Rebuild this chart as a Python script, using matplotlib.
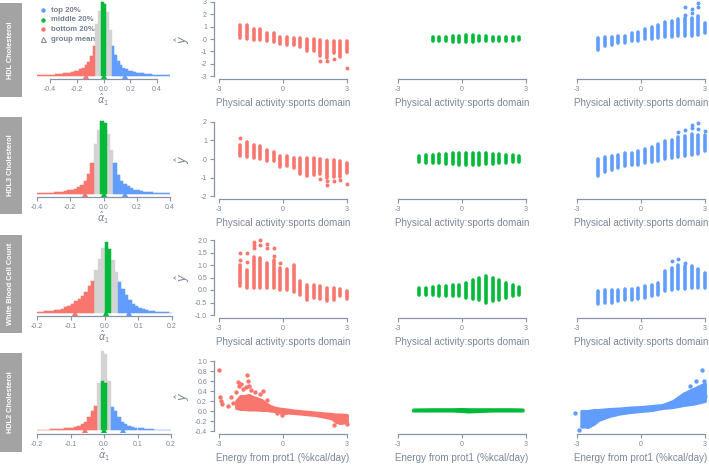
import numpy as np
import matplotlib.pyplot as plt

W, H = 709, 468
RED = '#F8766D'
GREEN = '#00BA38'
BLUE = '#619CFF'
GREY = '#d3d3d3'
AXC = '#8794a6'
TXT = '#7a8698'

plt.rcParams['font.family'] = ['Liberation Sans', 'DejaVu Sans']

row_names = ['HDL Cholesterol', 'HDL3 Cholesterol', 'White Blood Cell Count', 'HDL2 Cholesterol']
x_names = ['Physical activity:sports domain'] * 3 + ['Energy from prot1 (%kcal/day)']

# ---- histograms of alpha_1 (relative bin heights) ----
hist_start = [-0.5, -0.4, -0.2, -0.2]
hist_width = [0.02, 0.02, 0.01, 0.01]
hist1 = [0.005, 0.005, 0.007, 0.008, 0.01, 0.012, 0.015, 0.018, 0.02, 0.025,
         0.03, 0.035, 0.04, 0.05, 0.06, 0.07, 0.09, 0.11, 0.14, 0.19,
         0.27, 0.41, 0.7, 0.88, 1.0, 0.97, 0.86, 0.62, 0.4, 0.28,
         0.2, 0.15, 0.11, 0.09, 0.07, 0.06, 0.05, 0.04, 0.035, 0.03,
         0.025, 0.02, 0.018, 0.015, 0.012, 0.01, 0.008, 0.007, 0.006, 0.005]
hist2 = [0.005, 0.007, 0.01, 0.012, 0.015, 0.02, 0.025, 0.03, 0.035, 0.045,
         0.055, 0.07, 0.09, 0.12, 0.17, 0.27, 0.43, 0.68, 0.88, 1.0,
         0.97, 0.82, 0.6, 0.42, 0.26, 0.18, 0.13, 0.1, 0.075, 0.055,
         0.045, 0.035, 0.03, 0.022, 0.018, 0.014, 0.01, 0.008, 0.006, 0.004]
hist3 = [0.01, 0.015, 0.02, 0.025, 0.03, 0.035, 0.045, 0.06, 0.08, 0.1,
         0.13, 0.17, 0.2, 0.24, 0.3, 0.38, 0.45, 0.6, 0.76, 0.92,
         1.0, 0.9, 0.75, 0.58, 0.44, 0.34, 0.25, 0.18, 0.13, 0.1,
         0.075, 0.055, 0.04, 0.03, 0.022, 0.016, 0.012, 0.009, 0.006, 0.004]
hist4 = [0.005, 0.007, 0.008, 0.01, 0.012, 0.014, 0.016, 0.02, 0.025, 0.03,
         0.035, 0.045, 0.055, 0.08, 0.11, 0.17, 0.24, 0.31, 0.6, 1.0,
         0.97, 0.62, 0.3, 0.24, 0.17, 0.11, 0.08, 0.06, 0.045, 0.035,
         0.03, 0.025, 0.02, 0.016, 0.013, 0.01, 0.008, 0.006, 0.005, 0.004]
# group cut points: bottom below, middle between, top above
cut_bottom = [-0.06, -0.06, -0.03, -0.02]
cut_mid_lo = [-0.02, -0.02, 0.0, -0.01]
cut_mid_hi = [0.02, 0.02, 0.02, 0.01]
cut_top = [0.06, 0.06, 0.04, 0.02]
mid_frac = [1.0, 1.0, 1.0, 0.62]
mean_bottom = [-0.13, -0.11, -0.087, -0.057]
mean_mid = [0.0, 0.003, 0.004, 0.0]
mean_top = [0.16, 0.13, 0.073, 0.058]

# ---- discrete sports domain scatter (rows 1-3), vertical spreads ----
sports_x = [-2.0, -1.69, -1.38, -1.06, -0.75, -0.44, -0.12, 0.19, 0.5,
            0.81, 1.12, 1.44, 1.75, 2.06, 2.38, 2.69, 3.0]

r1_red_lo = [0.05, -0.03, -0.08, -0.08, -0.2, -0.26, -0.4, -0.45, -0.52, -0.65, -1.0, -1.0, -1.35, -1.5, -1.1, -1.45, -1.06]
r1_red_hi = [1.1, 1.1, 0.84, 0.8, 0.52, 0.5, 0.18, 0.18, 0.1, 0.05, 0.0, 0.0, -0.08, -0.13, -0.2, -0.13, -0.2]
r1_red_ox = [1.75, 2.06, 2.38, 3.0]
r1_red_oy = [-1.77, -1.8, -1.64, -2.34]
r1_green_x = [-1.38, -1.06, -0.75, -0.44, -0.12, 0.19, 0.5, 0.81, 1.12, 1.44, 1.75, 2.06, 2.38, 2.69]
r1_green_lo = [-0.15, -0.2, -0.2, -0.25, -0.25, -0.25, -0.25, -0.2, -0.2, -0.2, -0.2, -0.15, -0.15, -0.1]
r1_green_hi = [0.15, 0.2, 0.2, 0.25, 0.25, 0.3, 0.3, 0.25, 0.25, 0.2, 0.2, 0.2, 0.15, 0.15]
r1_blue_lo = [-0.89, -0.57, -0.52, -0.31, -0.31, -0.17, -0.17, -0.04, 0.01, 0.09, 0.15, 0.17, 0.23, 0.28, 0.23, 0.36, 0.49]
r1_blue_hi = [0.09, 0.15, 0.17, 0.28, 0.28, 0.49, 0.57, 0.81, 0.97, 1.16, 1.35, 1.48, 1.61, 1.69, 1.69, 1.83, 1.29]
r1_blue_ox = [2.06, 2.06, 2.38, 2.38, 2.69, 2.69]
r1_blue_oy = [2.63, 1.96, 2.41, 2.09, 2.95, 2.57]

r2_red_lo = [0.15, 0.12, 0.03, -0.01, -0.1, -0.12, -0.42, -0.39, -0.46, -0.83, -0.9, -0.87, -0.83, -1.05, -0.96, -0.96, -0.78]
r2_red_hi = [0.74, 0.92, 0.78, 0.69, 0.48, 0.39, 0.17, 0.15, 0.06, 0.03, 0.03, 0.03, -0.01, -0.03, -0.06, -0.1, -0.21]
r2_red_ox = [-2.0, 1.75, 2.06, 2.06, 2.38, 2.69, 3.0]
r2_red_oy = [1.14, -1.1, -1.18, -1.41, -1.19, -1.14, -1.35]
r2_green_x = [-2.0, -1.69, -1.38, -1.06, -0.75, -0.44, -0.12, 0.19, 0.5, 0.81, 1.12, 1.44, 1.75, 2.06, 2.38, 2.69]
r2_green_lo = [-0.15, -0.2, -0.2, -0.2, -0.25, -0.25, -0.3, -0.3, -0.3, -0.3, -0.25, -0.25, -0.2, -0.2, -0.15, -0.15]
r2_green_hi = [0.15, 0.2, 0.2, 0.25, 0.25, 0.3, 0.35, 0.35, 0.35, 0.3, 0.3, 0.25, 0.25, 0.2, 0.2, 0.15]
r2_blue_lo = [-0.9, -0.7, -0.6, -0.5, -0.4, -0.35, -0.3, -0.2, -0.15, -0.1, 0.0, 0.05, 0.1, 0.15, 0.2, 0.25, 0.45]
r2_blue_hi = [0.0, 0.1, 0.15, 0.2, 0.3, 0.35, 0.45, 0.55, 0.65, 0.8, 0.95, 1.05, 1.2, 1.25, 1.35, 1.3, 1.3]
r2_blue_ox = [1.75, 2.06, 2.38, 2.38, 2.69, 2.69, 3.0]
r2_blue_oy = [1.45, 1.55, 1.65, 1.85, 1.6, 1.95, 1.5]

r3_red_lo = [0.16, 0.07, 0.09, 0.07, 0.07, 0.07, 0.0, 0.0, -0.07, -0.2, -0.4, -0.33, -0.36, -0.44, -0.4, -0.23, -0.36]
r3_red_hi = [1.0, 0.8, 1.33, 1.27, 1.07, 1.2, 0.87, 0.83, 1.0, 0.36, 0.2, 0.2, 0.17, 0.07, 0.07, 0.03, -0.04]
r3_red_ox = [-2.0, -2.0, -1.69, -1.69, -1.38, -1.38, -1.38, -1.06, -1.06, -0.75, -0.75, -0.44, -0.44, -0.12]
r3_red_oy = [1.2, 1.5, 1.13, 1.49, 1.93, 1.8, 1.67, 2.02, 1.8, 1.83, 1.67, 1.69, 1.37, 1.07]
r3_green_x = r2_green_x
r3_green_lo = [-0.2, -0.2, -0.2, -0.22, -0.22, -0.25, -0.25, -0.3, -0.35, -0.4, -0.5, -0.45, -0.4, -0.3, -0.25, -0.2]
r3_green_hi = [0.1, 0.1, 0.12, 0.15, 0.15, 0.2, 0.2, 0.3, 0.4, 0.5, 0.55, 0.5, 0.4, 0.3, 0.2, 0.12]
r3_blue_lo = [-0.55, -0.5, -0.5, -0.45, -0.4, -0.4, -0.35, -0.3, -0.25, -0.2, -0.05, 0.0, 0.05, 0.05, 0.1, 0.1, 0.1]
r3_blue_hi = [-0.05, 0.0, 0.0, 0.0, 0.05, 0.05, 0.1, 0.15, 0.2, 0.3, 0.75, 0.9, 1.0, 0.95, 0.95, 0.85, 0.7]
r3_blue_ox = [1.44, 1.75, 2.06]
r3_blue_oy = [1.15, 1.25, 1.1]

# ---- continuous protein scatter (row 4): dense band + stray points ----
r4_red_x = [-2.2, -2.0, -1.8, -1.6, -1.4, -1.2, -1.0, -0.8, -0.6, -0.4, -0.2, 0.0, 0.2, 0.5, 1.0, 1.5, 2.0, 2.3, 2.5, 2.7, 3.0]
r4_red_hi = [0.2, 0.3, 0.3, 0.32, 0.28, 0.25, 0.22, 0.15, 0.1, 0.07, 0.05, 0.04, 0.03, 0.01, -0.01, -0.03, -0.05, -0.06, -0.07, -0.07, -0.08]
r4_red_lo = [0.06, 0.04, 0.04, 0.03, 0.03, 0.03, 0.02, 0.02, 0.01, 0.0, -0.01, -0.05, -0.03, -0.04, -0.06, -0.08, -0.12, -0.15, -0.22, -0.24, -0.22]
r4_red_ox = [-3.0, -2.97, -2.9, -2.85, -2.6, -2.45, -2.35, -2.2, -2.1, -2.05, -1.95, -1.9, -1.75, -1.7,
             -1.65, -1.6, -1.5, -1.3, -1.1, -0.95, -0.75, -0.3, -0.05, 2.4, 2.95, 3.0]
r4_red_oy = [0.82, 0.28, 0.2, 0.15, 0.1, 0.28, 0.17, 0.38, 0.58, 0.5, 0.55, 0.45, 0.48, 0.72,
             0.6, 0.5, 0.42, 0.38, 0.35, 0.4, 0.22, -0.04, -0.08, -0.28, -0.1, -0.25]
r4_green_x = [-2.3, -1.5, -0.5, 0.0, 0.3, 0.8, 1.5, 2.3, 2.85]
r4_green_lo = [0.01, 0.01, 0.01, 0.0, -0.01, 0.0, 0.01, 0.01, 0.01]
r4_green_hi = [0.03, 0.035, 0.035, 0.04, 0.035, 0.035, 0.035, 0.035, 0.03]
r4_blue_x = [-2.8, -2.5, -2.2, -2.0, -1.5, -1.0, -0.5, 0.0, 0.5, 1.0, 1.5, 2.0, 2.5, 3.0]
r4_blue_hi = [0.0, 0.0, 0.02, 0.02, 0.04, 0.05, 0.07, 0.08, 0.1, 0.12, 0.2, 0.35, 0.45, 0.55]
r4_blue_lo = [-0.3, -0.32, -0.25, -0.18, -0.1, -0.05, -0.02, 0.0, 0.02, 0.06, 0.08, 0.12, 0.15, 0.2]
r4_blue_ox = [-3.1, -2.9, -2.75, -2.6, 2.3, 2.5, 2.6, 2.85, 2.9, 3.0, 2.95]
r4_blue_oy = [-0.04, -0.38, -0.3, -0.1, 0.5, 0.42, 0.6, 0.82, 0.4, 0.3, 0.6]

# y axis ticks of the scatter columns
y_ticks = [[-3, -2, -1, 0, 1, 2, 3],
           [-2, -1, 0, 1, 2],
           [-1.0, -0.5, 0.0, 0.5, 1.0, 1.5, 2.0],
           [-0.4, -0.2, 0.0, 0.2, 0.4, 0.6, 0.8, 1.0]]
y_labels = [['-3', '-2', '-1', '0', '1', '2', '3'],
            ['-2', '-1', '0', '1', '2'],
            ['-1.0', '-0.5', '0.0', '0.5', '1.0', '1.5', '2.0'],
            ['-0.4', '-0.2', '0.0', '0.2', '0.4', '0.6', '0.8', '1.0']]
h_ticks = [[-0.4, -0.2, 0.0, 0.2, 0.4]] * 2 + [[-0.2, -0.1, 0.0, 0.1, 0.2]] * 2

# ---- layout (pixels) ----
row_top = [-1, 119, 237, 358.2]
row_bot = [79, 199, 318, 433.8]
hist_box = [(36.6, 0, 170.4, 79), (37, 119, 170, 197), (37, 240, 172, 316), (37, 349, 171, 434)]
hist_xlim = [(-0.5, 0.5), (-0.4, 0.4), (-0.2, 0.2), (-0.2, 0.2)]
col_left = [214, 393, 572]
strip_box = [(3, 97), (117, 214), (235, 333), (353, 452)]

fig = plt.figure(figsize=(W / 100, H / 100), dpi=100)


def px_axes(l, t, r, b):
    return fig.add_axes([l / W, 1 - b / H, (r - l) / W, (b - t) / H])


def base_style(ax):
    for s in ['top', 'right']:
        ax.spines[s].set_visible(False)
    for s in ['bottom', 'left']:
        ax.spines[s].set_color(AXC)
        ax.spines[s].set_linewidth(0.9)
    ax.set_facecolor('none')
    ax.tick_params(colors=AXC, labelcolor=TXT, labelsize=5, length=3, width=0.8, pad=2)


def draw_hist(ax, i):
    h = np.array([hist1, hist2, hist3, hist4][i])
    w = hist_width[i]
    c = hist_start[i] + w * (np.arange(len(h)) + 0.5)
    ax.bar(c, h, width=w, color=GREY, edgecolor=GREY, linewidth=0.3)
    m = c < cut_bottom[i]
    ax.bar(c[m], h[m], width=w, color=RED, edgecolor=RED, linewidth=0.3)
    m = (c > cut_mid_lo[i]) & (c < cut_mid_hi[i])
    ax.bar(c[m], h[m] * mid_frac[i], width=w, color=GREEN, edgecolor=GREEN, linewidth=0.3)
    m = c > cut_top[i]
    ax.bar(c[m], h[m], width=w, color=BLUE, edgecolor=BLUE, linewidth=0.3)
    for v, col in [(mean_bottom[i], RED), (mean_mid[i], GREEN), (mean_top[i], BLUE)]:
        ax.plot(v, 0, marker='^', color=col, ms=4, mew=0, clip_on=False, zorder=5)
    ax.set_xlim(*hist_xlim[i])
    ax.set_ylim(-0.045, 1.03)
    base_style(ax)
    ax.spines['left'].set_visible(False)
    ax.set_yticks([])
    t = h_ticks[i]
    ax.spines['bottom'].set_bounds(t[0], t[-1])
    ax.set_xticks(t)
    ax.set_xticklabels(['%.1f' % v for v in t])


def draw_spread(ax, xs, lo, hi, col, ox=None, oy=None):
    ax.vlines(xs, lo, hi, colors=col, linewidth=2.6, capstyle='round')
    if ox is not None:
        ax.scatter(ox, oy, s=8, color=col, linewidths=0)


def draw_band(ax, xs, lo, hi, col, ox=None, oy=None):
    ax.fill_between(xs, lo, hi, color=col, edgecolor=col, linewidth=2.2)
    if ox is not None:
        ax.scatter(ox, oy, s=10, color=col, linewidths=0)


spreads = [
    [(sports_x, r1_red_lo, r1_red_hi, RED, r1_red_ox, r1_red_oy),
     (r1_green_x, r1_green_lo, r1_green_hi, GREEN, None, None),
     (sports_x, r1_blue_lo, r1_blue_hi, BLUE, r1_blue_ox, r1_blue_oy)],
    [(sports_x, r2_red_lo, r2_red_hi, RED, r2_red_ox, r2_red_oy),
     (r2_green_x, r2_green_lo, r2_green_hi, GREEN, None, None),
     (sports_x, r2_blue_lo, r2_blue_hi, BLUE, r2_blue_ox, r2_blue_oy)],
    [(sports_x, r3_red_lo, r3_red_hi, RED, r3_red_ox, r3_red_oy),
     (r3_green_x, r3_green_lo, r3_green_hi, GREEN, None, None),
     (sports_x, r3_blue_lo, r3_blue_hi, BLUE, r3_blue_ox, r3_blue_oy)],
    [(r4_red_x, r4_red_lo, r4_red_hi, RED, r4_red_ox, r4_red_oy),
     (r4_green_x, r4_green_lo, r4_green_hi, GREEN, None, None),
     (r4_blue_x, r4_blue_lo, r4_blue_hi, BLUE, r4_blue_ox, r4_blue_oy)],
]

ov = fig.add_axes([0, 0, 1, 1])
ov.set_xlim(0, W)
ov.set_ylim(H, 0)
ov.axis('off')

for i in range(4):
    l, t, r, b = hist_box[i]
    hax = px_axes(l, t, r, b)
    draw_hist(hax, i)
    x0 = l + (0 - hist_xlim[i][0]) / (hist_xlim[i][1] - hist_xlim[i][0]) * (r - l)
    ov.text(x0, b + 21, r'$\hat{\alpha}_1$', color=TXT, fontsize=7, ha='center', va='center')

    yt = y_ticks[i]
    pad = 0.04 * (yt[-1] - yt[0])
    for j in range(3):
        ax = px_axes(col_left[j], row_top[i], col_left[j] + 138, row_bot[i])
        xs, lo, hi, col, ox, oy = spreads[i][j]
        if i < 3:
            draw_spread(ax, xs, lo, hi, col, ox, oy)
        else:
            draw_band(ax, xs, lo, hi, col, ox, oy)
        ax.set_xlim(-3.24, 3.24)
        ax.set_ylim(yt[0] - pad, yt[-1] + pad)
        base_style(ax)
        ax.spines['bottom'].set_bounds(-3, 3)
        ax.set_xticks([-3, 0, 3])
        ax.set_xticklabels(['-3', '0', '3'])
        if j == 0:
            ax.spines['left'].set_bounds(yt[0], yt[-1])
            ax.set_yticks(yt)
            ax.set_yticklabels(y_labels[i])
        else:
            ax.spines['left'].set_visible(False)
            ax.set_yticks([])
        ov.text(col_left[j] + 69, row_bot[i] + 24, x_names[i], color=TXT,
                fontsize=7.1, ha='center', va='center')
    ov.text(183, (row_top[i] + row_bot[i]) / 2, r'$\hat{y}$', color=TXT, fontsize=8.5,
            rotation=90, ha='center', va='center')

    st, sb = strip_box[i]
    ov.add_patch(plt.Rectangle((0, st), 22, sb - st, color='#a3a3a3', lw=0))
    ov.text(11, (st + sb) / 2, row_names[i], color='white', fontsize=5.3,
            fontweight='bold', rotation=90, ha='center', va='center')

# legend of the first histogram
leg_labels = ['top 20%', 'middle 20%', 'bottom 20%', 'group mean']
leg_colors = [BLUE, GREEN, RED, TXT]
leg_marks = ['o', 'o', 'o', '^']
for k in range(4):
    yk = 10 + 9.7 * k
    if leg_marks[k] == 'o':
        ov.plot(43, yk, marker='o', color=leg_colors[k], ms=3.2, mew=0)
    else:
        ov.plot(43, yk, marker='^', mfc='none', mec=TXT, ms=3.6, mew=0.7)
    ov.text(51, yk, leg_labels[k], color='#75808f', fontsize=5.6, fontweight='bold',
            ha='left', va='center')

fig.savefig('out.png', dpi=100)
